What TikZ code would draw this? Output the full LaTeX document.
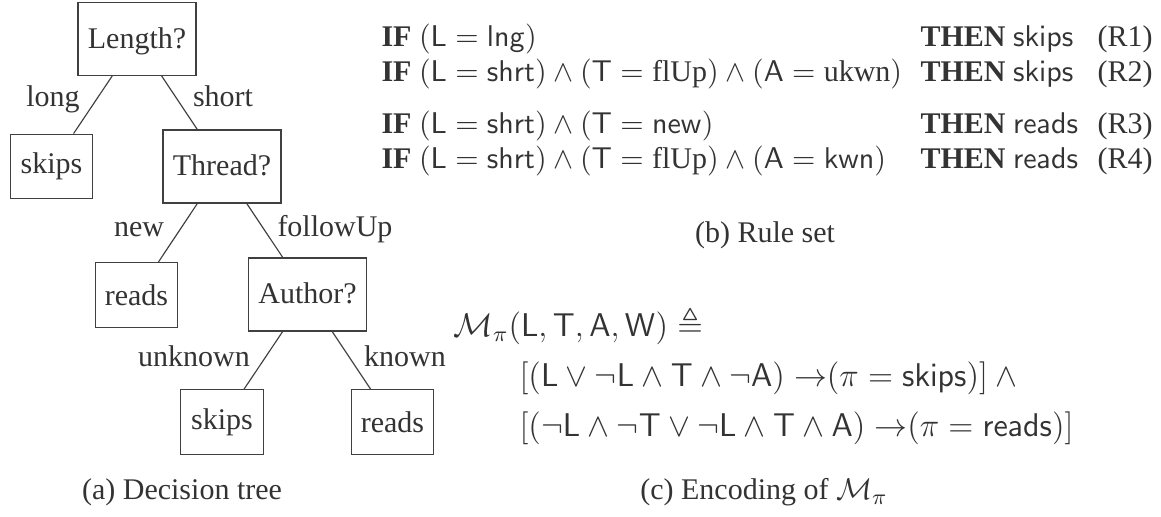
\documentclass[tikz,border=0pt]{standalone}
\usepackage{amsmath,amssymb}
\usepackage[no-math]{fontspec}
\setmainfont{Liberation Serif}
\begin{document}
\begin{tikzpicture}[x=0.365pt,y=-0.365pt,
  txt/.style={text=black!80},
  box/.style={draw=black!75, line width=0.42pt, inner sep=0pt, txt, font=\fontsize{10.95}{13.6}\selectfont},
  qbox/.style={box, minimum width=43.1pt, minimum height=26.6pt, text height=0.66em, text depth=0pt},
  leafbox/.style={box, minimum width=30pt, minimum height=23.6pt},
  lbl/.style={anchor=base, inner sep=0pt, txt, font=\fontsize{10.95}{13.6}\selectfont},
  edge/.style={draw=black!75, line width=0.42pt},
  rulet/.style={anchor=base west, inner sep=0pt, txt, font=\fontsize{10.95}{13.6}\selectfont},
  frm/.style={anchor=base west, inner sep=0pt, txt, font=\fontsize{12}{14.5}\selectfont}]
\useasboundingbox (0,0) rectangle (1161,517);

% ---- (a) decision tree
\node[qbox] (len) at (137,39) {Length?};
\node[leafbox] (s1) at (51.5,166.5) {skips};
\node[qbox] (thr) at (222,166.5) {Thread?};
\node[leafbox] (r1) at (136.5,295) {reads};
\node[qbox] (aut) at (307.5,294.5) {Author?};
\node[leafbox] (s2) at (222,422) {skips};
\node[leafbox] (r2) at (392.5,422) {reads};

\draw[edge] (len) -- (s1);
\draw[edge] (len) -- (thr);
\draw[edge] (thr) -- (r1);
\draw[edge] (thr) -- (aut);
\draw[edge] (aut) -- (s2);
\draw[edge] (aut) -- (r2);

\node[lbl] (llong) at (53,107) {long};
\node[lbl] (lshort) at (223,107) {short};
\node[lbl] (lnew) at (139,237) {new};
\node[lbl] (lfu) at (335,237) {followUp};
\node[lbl] (lunk) at (194,367) {unknown};
\node[lbl] (lkn) at (405,367) {known};

\node[lbl] (capa) at (182,500) {(a) Decision tree};

% ---- (b) rule set
\node[rulet] (if1) at (381,47) {\textbf{IF} $(\mathsf{L} = \mathsf{lng})$};
\node[rulet] (if2) at (381,82) {\textbf{IF} $(\mathsf{L} = \mathsf{shrt}) \wedge (\mathsf{T} = \text{flUp}) \wedge (\mathsf{A} = \text{ukwn})$};
\node[rulet] (if3) at (381,134) {\textbf{IF} $(\mathsf{L} = \mathsf{shrt}) \wedge (\mathsf{T} = \mathsf{new})$};
\node[rulet] (if4) at (381,169) {\textbf{IF} $(\mathsf{L} = \mathsf{shrt}) \wedge (\mathsf{T} = \text{flUp}) \wedge (\mathsf{A} = \mathsf{kwn})$};

\node[rulet] (th1) at (920,47) {\textbf{THEN} $\mathsf{skips}$};
\node[rulet] (th2) at (920,82) {\textbf{THEN} $\mathsf{skips}$};
\node[rulet] (th3) at (920,134) {\textbf{THEN} $\mathsf{reads}$};
\node[rulet] (th4) at (920,169) {\textbf{THEN} $\mathsf{reads}$};

\node[rulet] (tg1) at (1097,47) {(R1)};
\node[rulet] (tg2) at (1097,82) {(R2)};
\node[rulet] (tg3) at (1097,134) {(R3)};
\node[rulet] (tg4) at (1097,169) {(R4)};

\node[lbl] (capb) at (765,243) {(b) Rule set};

% ---- (c) encoding
\node[frm] (f1) at (453,337) {$\mathcal{M}_\pi(\mathsf{L},\mathsf{T},\mathsf{A},\mathsf{W}) \triangleq$};
\node[frm] (f2) at (519,387) {$[(\mathsf{L} \vee \neg\mathsf{L} \wedge \mathsf{T} \wedge \neg\mathsf{A})\mskip5mu{\rightarrow}(\pi = \mathsf{skips})] \wedge {}$};
\node[frm] (f3) at (519,437) {$[(\neg\mathsf{L} \wedge \neg\mathsf{T} \vee \neg\mathsf{L} \wedge \mathsf{T} \wedge \mathsf{A})\mskip5mu{\rightarrow}(\pi = \mathsf{reads})]$};

\node[lbl] (capc) at (764,500) {(c) Encoding of $\mathcal{M}_\pi$};
\end{tikzpicture}
\end{document}
